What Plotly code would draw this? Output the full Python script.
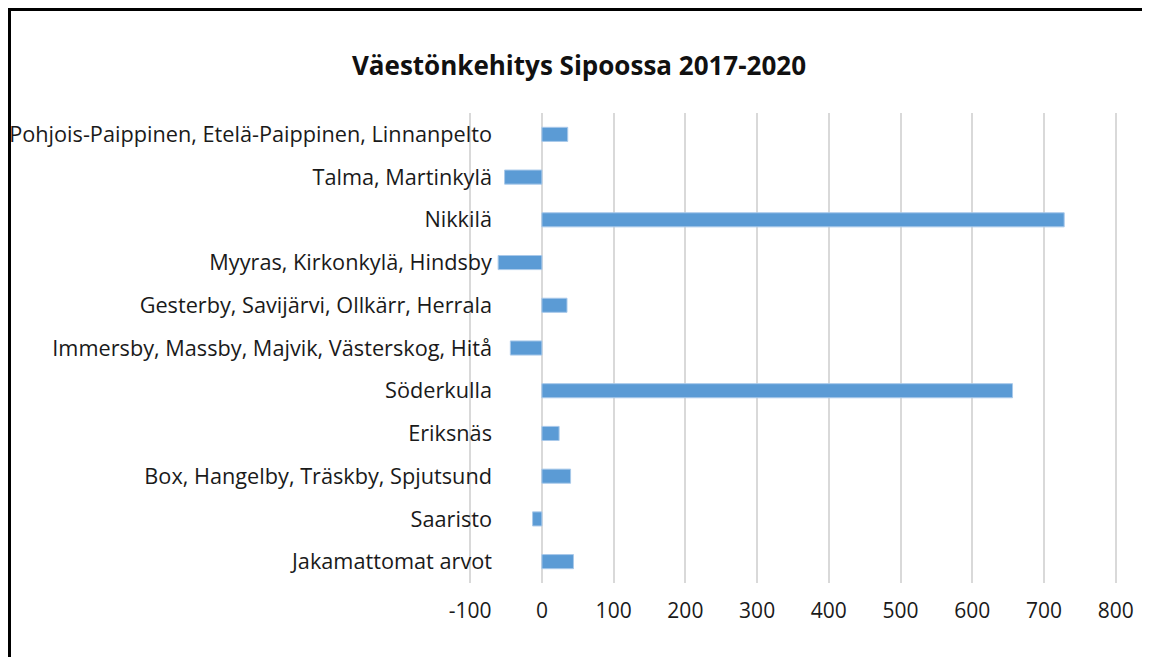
import plotly.graph_objects as go

# Population change per area, Sipoo 2017-2020
areas = [
    "Pohjois-Paippinen, Etelä-Paippinen, Linnanpelto",
    "Talma, Martinkylä",
    "Nikkilä",
    "Myyras, Kirkonkylä, Hindsby",
    "Gesterby, Savijärvi, Ollkärr, Herrala",
    "Immersby, Massby, Majvik, Västerskog, Hitå",
    "Söderkulla",
    "Eriksnäs",
    "Box, Hangelby, Träskby, Spjutsund",
    "Saaristo",
    "Jakamattomat arvot",
]
change = [36, -52, 728, -61, 35, -44, 656, 24, 40, -13, 44]
x_ticks = [-100, 0, 100, 200, 300, 400, 500, 600, 700, 800]

FONT = "Open Sans"
# the page puts the figure 8px in from the top-left corner, so every
# pixel position below is "screen position - 8"
OFF = 8
W, H = 1150 - OFF, 657 - OFF
L, R, T, B = 468 - OFF, 1118 - OFF, 113 - OFF, 583 - OFF


def px_x(px):
    return (px - OFF - L) / (R - L)


def px_y(py):
    return (B - (py - OFF)) / (B - T)


fig = go.Figure()

fig.add_trace(go.Bar(
    x=change,
    y=areas,
    orientation="h",
    marker=dict(color="#5b9bd5", line=dict(color="#a9c9ea", width=1)),
    showlegend=False,
))

fig.update_xaxes(
    range=[-103, 803],
    tickmode="array",
    tickvals=x_ticks,
    ticktext=[str(v) for v in x_ticks],
    showgrid=True,
    gridcolor="#d9d9d9",
    gridwidth=2,
    zeroline=False,
    showline=False,
    ticks="",
    ticklabelstandoff=13,
    tickfont=dict(family=FONT, size=21, color="#1a1a1a"),
)

fig.update_yaxes(
    autorange="reversed",
    anchor="free",
    position=px_x(492),
    automargin=False,
    showgrid=False,
    zeroline=False,
    showline=False,
    ticks="",
    tickfont=dict(family=FONT, size=21.7, color="#1a1a1a"),
)

# frame around the chart like the original image
frame = [
    dict(x0=px_x(8), x1=px_x(1149), y0=px_y(9.5), y1=px_y(9.5), color="black", width=3),
    dict(x0=px_x(9.5), x1=px_x(9.5), y0=px_y(8), y1=px_y(670), color="black", width=3),
    dict(x0=px_x(1148), x1=px_x(1148), y0=px_y(9), y1=px_y(670), color="#777777", width=1),
]
for f in frame:
    fig.add_shape(
        type="line", xref="paper", yref="paper",
        x0=f["x0"], x1=f["x1"], y0=f["y0"], y1=f["y1"],
        line=dict(color=f["color"], width=f["width"]),
    )

fig.update_layout(
    width=W,
    height=H,
    bargap=0.67,
    title=dict(
        text="<b>Väestönkehitys Sipoossa 2017-2020</b>",
        x=(579 - OFF) / W, xanchor="center",
        y=1 - (66 - OFF) / H, yanchor="middle",
        font=dict(family=FONT, size=26, color="#111111"),
    ),
    plot_bgcolor="white",
    paper_bgcolor="white",
    margin=dict(l=L, r=W - R, t=T, b=H - B),
)

fig.write_html("out.html")
